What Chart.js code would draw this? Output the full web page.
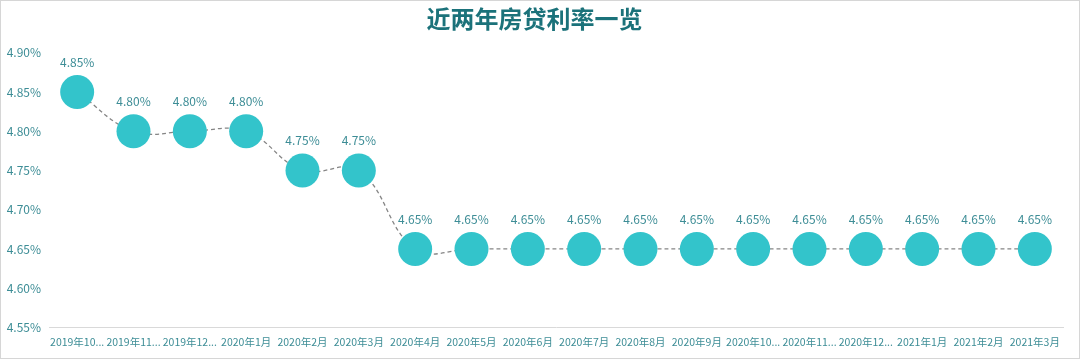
<!DOCTYPE html>
<html>
<head>
<meta charset="utf-8">
<script src="https://cdn.jsdelivr.net/npm/chart.js@4.4.0/dist/chart.umd.min.js"></script>
<style>
  html, body { margin: 0; padding: 0; background: #fff; }
  #wrap { width: 1080px; height: 360px; }
</style>
</head>
<body>
<div id="wrap"><canvas id="rateChart" width="1080" height="360"></canvas></div>
<script>
const months = ['2019年10月', '2019年11月', '2019年12月', '2020年1月', '2020年2月', '2020年3月',
    '2020年4月', '2020年5月', '2020年6月', '2020年7月', '2020年8月', '2020年9月',
    '2020年10月', '2020年11月', '2020年12月', '2021年1月', '2021年2月', '2021年3月'];
const tickLabels = ['2019年10...', '2019年11...', '2019年12...', '2020年1月', '2020年2月', '2020年3月',
    '2020年4月', '2020年5月', '2020年6月', '2020年7月', '2020年8月', '2020年9月',
    '2020年10...', '2020年11...', '2020年12...', '2021年1月', '2021年2月', '2021年3月'];
const rates = [4.85, 4.80, 4.80, 4.80, 4.75, 4.75, 4.65, 4.65, 4.65, 4.65, 4.65, 4.65,
    4.65, 4.65, 4.65, 4.65, 4.65, 4.65];

const fontFamily = '"Noto Sans CJK SC", "Noto Sans", sans-serif';
const textColor = '#3d8d96';

// white background + thin frame
const frame = {
    id: 'frame',
    beforeDraw(chart) {
        const c = chart.ctx;
        c.save();
        c.fillStyle = '#fff';
        c.fillRect(0, 0, chart.width, chart.height);
        c.strokeStyle = '#d6d6d6';
        c.lineWidth = 1;
        c.strokeRect(0.5, 0.5, chart.width - 1, chart.height - 2);
        c.restore();
    }
};

// value labels above each point
const valueLabels = {
    id: 'valueLabels',
    afterDatasetsDraw(chart) {
        const c = chart.ctx;
        const meta = chart.getDatasetMeta(0);
        c.save();
        c.font = '12px ' + fontFamily;
        c.fillStyle = textColor;
        c.textAlign = 'center';
        c.textBaseline = 'middle';
        meta.data.forEach((pt, i) => {
            c.fillText(rates[i].toFixed(2) + '%', pt.x, pt.y - 30);
        });
        c.restore();
    }
};

const ctx = document.getElementById('rateChart').getContext('2d');
new Chart(ctx, {
    type: 'line',
    data: {
        labels: months,
        datasets: [{
            data: rates,
            borderColor: '#858585',
            borderWidth: 1.3,
            borderDash: [4, 3],
            tension: 0.4,
            pointRadius: 17,
            pointHoverRadius: 17,
            pointBackgroundColor: '#33c4cb',
            pointBorderColor: '#33c4cb',
            pointBorderWidth: 0,
            clip: false
        }]
    },
    options: {
        responsive: false,
        animation: false,
        layout: {
            padding: { left: 0, right: 11, top: 0, bottom: 4 }
        },
        plugins: {
            legend: { display: false },
            tooltip: { enabled: false },
            title: {
                display: true,
                text: '近两年房贷利率一览',
                color: '#1b727a',
                font: { family: fontFamily, size: 24, weight: 'bold' },
                padding: { top: 4, bottom: 20 }
            }
        },
        scales: {
            x: {
                offset: true,
                grid: { display: false, drawTicks: false },
                border: { display: true, color: '#d9d9d9' },
                ticks: {
                    color: textColor,
                    font: { family: fontFamily, size: 10.5 },
                    maxRotation: 0,
                    autoSkip: false,
                    padding: 8,
                    callback: function(value, index) {
                        return tickLabels[index];
                    }
                }
            },
            y: {
                min: 4.55,
                max: 4.90,
                afterFit: function(scale) { scale.width = 49; },
                grid: { display: false, drawTicks: false },
                border: { display: false },
                ticks: {
                    stepSize: 0.05,
                    color: textColor,
                    font: { family: fontFamily, size: 12 },
                    padding: 8,
                    callback: function(value) {
                        return value.toFixed(2) + '%';
                    }
                }
            }
        }
    },
    plugins: [frame, valueLabels]
});
</script>
</body>
</html>
